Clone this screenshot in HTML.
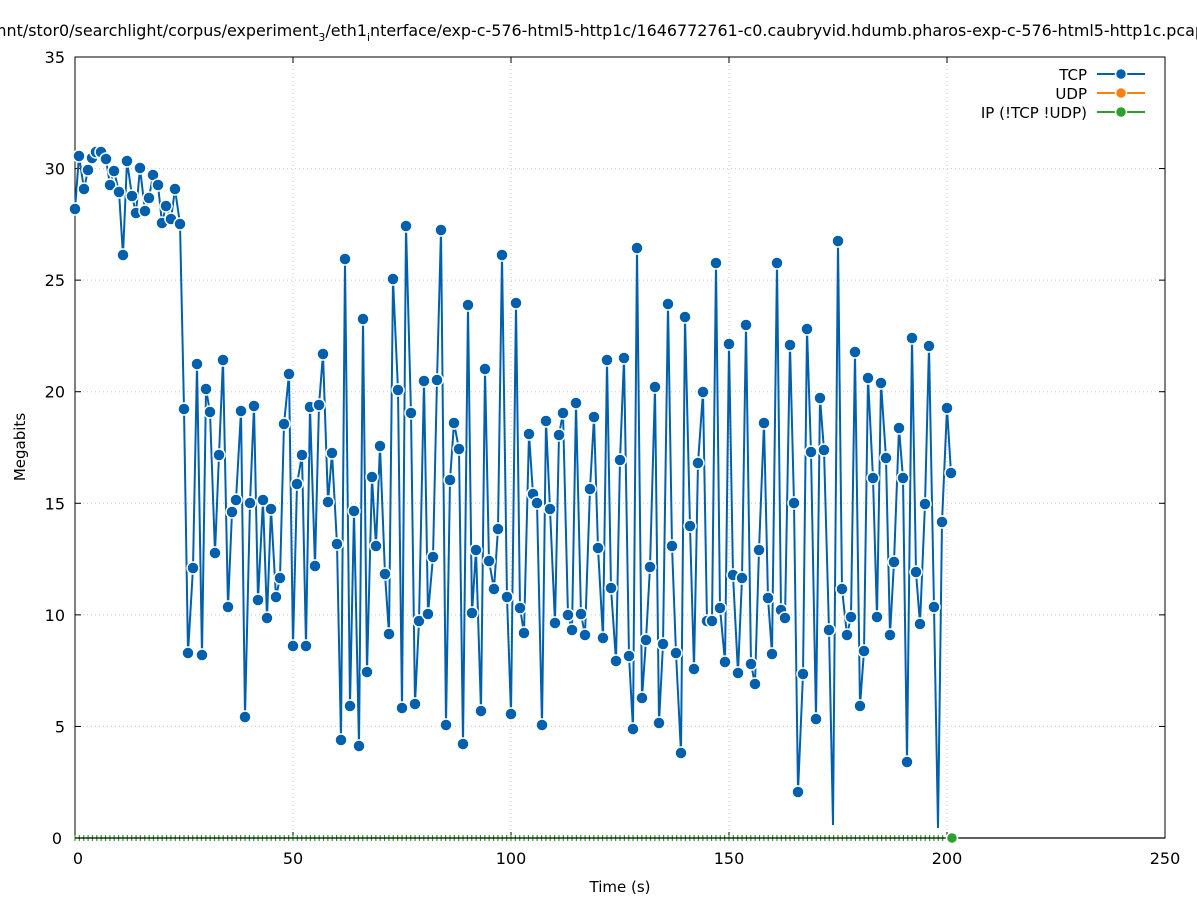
<!DOCTYPE html>
<html><head><meta charset="utf-8">
<style>
html,body{margin:0;padding:0;background:#fff;}
svg{display:block;font-family:"DejaVu Sans","Liberation Sans",sans-serif;}
</style></head>
<body>
<svg id="s" width="1197" height="900" viewBox="0 0 1197 900" xmlns="http://www.w3.org/2000/svg">
<rect width="1197" height="900" fill="#fff"/>
<text x="598" y="36" font-size="16" text-anchor="middle" textLength="1214" lengthAdjust="spacingAndGlyphs">mnt/stor0/searchlight/corpus/experiment<tspan font-size="11" dy="5">3</tspan><tspan dy="-5">/eth1</tspan><tspan font-size="11" dy="5">i</tspan><tspan dy="-5">nterface/exp-c-576-html5-http1c/1646772761-c0.caubryvid.hdumb.pharos-exp-c-576-html5-http1c.pcap</tspan></text>
<g id="grid" stroke="#c8c8c8" stroke-width="1" stroke-dasharray="1,3"></g>
<g id="axes" stroke="#000" stroke-width="1" fill="none"></g>
<g id="labels" font-size="16" fill="#000"></g>
<text x="25" y="447" font-size="15" text-anchor="middle" transform="rotate(-90 25 447)">Megabits</text>
<text x="620" y="892" font-size="15" text-anchor="middle">Time (s)</text>
<g id="gt" stroke="#2ca02c" stroke-width="1.2"></g>
<line x1="75" y1="838" x2="1165" y2="838" stroke="#000" stroke-width="1.2"/>
<g id="data"></g>
<circle cx="952" cy="838" r="5.5" fill="#2ca02c" stroke="#fff" stroke-width="1.5"/>
<g font-size="15" text-anchor="end">
<text x="1087" y="80">TCP</text>
<line x1="1097" y1="74" x2="1145" y2="74" stroke="#0060ad" stroke-width="2"/>
<circle cx="1121" cy="74" r="5.5" fill="#0060ad" stroke="#fff" stroke-width="1.5"/>
<text x="1087" y="99">UDP</text>
<line x1="1097" y1="93" x2="1145" y2="93" stroke="#ff7f0e" stroke-width="2"/>
<circle cx="1121" cy="93" r="5.5" fill="#ff7f0e" stroke="#fff" stroke-width="1.5"/>
<text x="1087" y="118">IP (!TCP  !UDP)</text>
<line x1="1097" y1="112" x2="1145" y2="112" stroke="#2ca02c" stroke-width="2"/>
<circle cx="1121" cy="112" r="5.5" fill="#2ca02c" stroke="#fff" stroke-width="1.5"/>
</g>
</svg>
<script>
var NS="http://www.w3.org/2000/svg";
function el(t,a,p){var e=document.createElementNS(NS,t);for(var k in a)e.setAttribute(k,a[k]);document.getElementById(p).appendChild(e);return e;}
var L=75,R=1165,T=57,B=838;
for(var i=0;i<=7;i++){var y=B-i*(B-T)/7;
 if(i>0&&i<7)el("line",{x1:L,y1:y,x2:R,y2:y},"grid");
 el("line",{x1:L,y1:y,x2:L+6,y2:y},"axes");el("line",{x1:R,y1:y,x2:R-6,y2:y},"axes");
 var t=el("text",{x:i==0?62:65,y:y+6,"text-anchor":"end"},"labels");t.textContent=i*5;}
for(var i=0;i<=5;i++){var x=L+i*(R-L)/5;
 if(i>0&&i<5)el("line",{x1:x,y1:T,x2:x,y2:B},"grid");
 el("line",{x1:x,y1:B,x2:x,y2:B-6},"axes");el("line",{x1:x,y1:T,x2:x,y2:T+6},"axes");
 var t=el("text",{x:i==0?78:x,y:864,"text-anchor":"middle"},"labels");t.textContent=i*50;}
el("rect",{x:L,y:T,width:R-L,height:B-T},"axes");
var P=[[75,209],[79,156],[84,189],[88,170],[92,158],[96,152],[101,152],[106,159],[110,185],[114,171],[119,192],[123,255],[127,161],[132,196],[136,213],[140,168],[145,211],[149,198],[153,175],[158,185],[162,223],[166,206],[171,219],[175,189],[180,224],[184,409],[188,653],[193,568],[197,364],[202,655],[206,389],[210,412],[215,553],[219,455],[223,360],[228,607],[232,512],[236,500],[241,411],[245,717],[250,503],[254,406],[258,600],[263,500],[267,618],[271,509],[276,597],[280,578],[284,424],[289,374],[293,646],[297,484],[302,455],[306,646],[310,407],[315,566],[319,405],[323,354],[328,502],[332,453],[337,544],[341,740],[345,259],[350,706],[354,511],[359,746],[363,319],[367,672],[372,477],[376,546],[380,446],[385,574],[389,634],[393,279],[398,390],[402,708],[406,226],[411,413],[415,704],[419,621],[424,381],[428,614],[433,557],[437,380],[441,230],[446,725],[450,480],[454,423],[459,449],[463,744],[468,305],[472,613],[476,550],[481,711],[485,369],[489,561],[494,589],[498,529],[502,255],[507,597],[511,714],[516,303],[520,608],[524,633],[529,434],[533,494],[537,503],[542,725],[546,421],[550,509],[555,623],[559,435],[563,413],[568,615],[572,630],[576,403],[581,614],[585,635],[590,489],[594,417],[598,548],[603,638],[607,360],[611,588],[616,661],[620,460],[624,358],[629,656],[633,729],[637,248],[642,698],[646,640],[650,567],[655,387],[659,723],[663,644],[668,304],[672,546],[676,653],[681,753],[685,317],[690,526],[694,669],[698,463],[703,392],[707,621],[712,621],[716,263],[720,608],[725,662],[729,344],[733,575],[738,673],[742,578],[746,325],[751,664],[755,684],[759,550],[764,423],[768,598],[772,654],[777,263],[781,610],[785,618],[790,345],[794,503],[798,792],[803,674],[807,329],[811,452],[816,719],[820,398],[824,450],[829,630],[833,825],[838,241],[842,589],[847,635],[851,617],[855,352],[860,706],[864,651],[868,378],[873,478],[877,617],[881,383],[886,458],[890,635],[894,562],[899,428],[903,478],[907,762],[912,338],[916,572],[920,624],[925,504],[929,346],[934,607],[938,828],[942,522],[947,408],[951,473]];
for(var k=0;k<=200;k++){var gx=75+k*4.36;el("line",{x1:gx,y1:835,x2:gx,y2:841},"gt");}
el("polyline",{points:P.map(function(p){return p.join(",")}).join(" "),fill:"none",stroke:"#0060ad","stroke-width":2,"stroke-linejoin":"miter"},"data");
P.forEach(function(p){if(p[1]<820)el("circle",{cx:p[0],cy:p[1],r:6,fill:"#0060ad",stroke:"#fff","stroke-width":1.5},"data");});
</script>
</body></html>
